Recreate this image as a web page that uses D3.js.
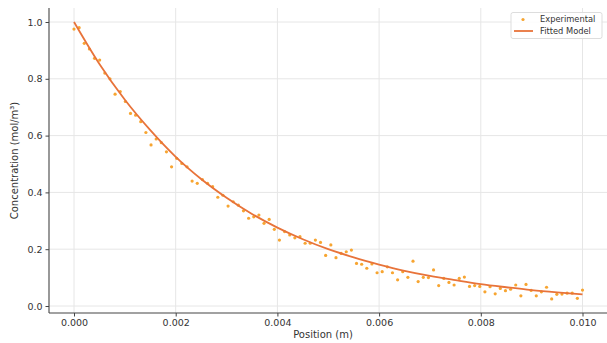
<!DOCTYPE html>
<html>
<head>
<meta charset="utf-8">
<script src="https://cdn.jsdelivr.net/npm/d3@7"></script>
<style>
  body { margin: 0; background: #fff; }
  svg { display: block; font-family: 'DejaVu Sans', sans-serif; }
</style>
</head>
<body>
<svg id="chart"></svg>
<script>
// Experimental sample positions (m)
const positions = [
  0, 0.000101, 0.000202, 0.000303, 0.000404, 0.000505, 0.000606, 0.000707, 0.000808, 0.000909,
  0.001010, 0.001111, 0.001212, 0.001313, 0.001414, 0.001515, 0.001616, 0.001717, 0.001818, 0.001919,
  0.002020, 0.002121, 0.002222, 0.002323, 0.002424, 0.002525, 0.002626, 0.002727, 0.002828, 0.002929,
  0.003030, 0.003131, 0.003232, 0.003333, 0.003434, 0.003535, 0.003636, 0.003737, 0.003838, 0.003939,
  0.004040, 0.004141, 0.004242, 0.004343, 0.004444, 0.004545, 0.004646, 0.004747, 0.004848, 0.004949,
  0.005051, 0.005152, 0.005253, 0.005354, 0.005455, 0.005556, 0.005657, 0.005758, 0.005859, 0.005960,
  0.006061, 0.006162, 0.006263, 0.006364, 0.006465, 0.006566, 0.006667, 0.006768, 0.006869, 0.006970,
  0.007071, 0.007172, 0.007273, 0.007374, 0.007475, 0.007576, 0.007677, 0.007778, 0.007879, 0.007980,
  0.008081, 0.008182, 0.008283, 0.008384, 0.008485, 0.008586, 0.008687, 0.008788, 0.008889, 0.008990,
  0.009091, 0.009192, 0.009293, 0.009394, 0.009495, 0.009596, 0.009697, 0.009798, 0.009899, 0.010000,
];

// Measured concentrations (mol/m³)
const experimental = [
  0.975, 0.980, 0.925, 0.905, 0.872, 0.866, 0.820, 0.800, 0.746, 0.755,
  0.720, 0.678, 0.672, 0.649, 0.611, 0.567, 0.588, 0.575, 0.543, 0.490,
  0.520, 0.502, 0.490, 0.440, 0.432, 0.445, 0.432, 0.420, 0.383, 0.390,
  0.352, 0.367, 0.355, 0.335, 0.309, 0.314, 0.320, 0.291, 0.305, 0.270,
  0.232, 0.262, 0.250, 0.240, 0.244, 0.221, 0.221, 0.232, 0.224, 0.178,
  0.215, 0.170, 0.185, 0.191, 0.197, 0.150, 0.147, 0.133, 0.148, 0.117,
  0.121, 0.138, 0.117, 0.092, 0.121, 0.101, 0.158, 0.086, 0.101, 0.100,
  0.127, 0.072, 0.097, 0.083, 0.074, 0.097, 0.102, 0.069, 0.072, 0.069,
  0.050, 0.068, 0.043, 0.062, 0.054, 0.059, 0.074, 0.036, 0.076, 0.055,
  0.036, 0.050, 0.066, 0.025, 0.041, 0.042, 0.045, 0.045, 0.027, 0.056,
];

// Fitted model curve, read at regular positions
const fitPositions = [
  0, 0.0005, 0.001, 0.0015, 0.002, 0.0025, 0.003, 0.0035, 0.004, 0.0045,
  0.005, 0.0055, 0.006, 0.0065, 0.007, 0.0075, 0.008, 0.0085, 0.009, 0.0095, 0.010,
];
const fitted = [
  1.000, 0.852, 0.726, 0.619, 0.525, 0.447, 0.381, 0.324, 0.276, 0.235,
  0.200, 0.171, 0.146, 0.124, 0.106, 0.091, 0.077, 0.066, 0.056, 0.048, 0.041,
];

const xTicks = [0, 0.002, 0.004, 0.006, 0.008, 0.010];
const yTicks = [0, 0.2, 0.4, 0.6, 0.8, 1.0];

const width = 607;
const height = 343;
const plot = { left: 49, right: 607, top: 8, bottom: 313 };

const pointColor = '#f7a531';
const lineColor = '#e8733a';

const svg = d3.select('#chart')
  .attr('width', width)
  .attr('height', height)
  .attr('viewBox', `0 0 ${width} ${height}`);

const xScale = d3.scaleLinear()
  .domain([0, 0.010])
  .range([74, 582.5]);

const yScale = d3.scaleLinear()
  .domain([0, 1])
  .range([306, 22]);

// Grid lines
svg.append('g')
  .selectAll('line')
  .data(xTicks)
  .join('line')
  .attr('x1', (d) => xScale(d))
  .attr('x2', (d) => xScale(d))
  .attr('y1', plot.top)
  .attr('y2', plot.bottom)
  .attr('stroke', '#e6e6e6')
  .attr('stroke-width', 1);

svg.append('g')
  .selectAll('line')
  .data(yTicks)
  .join('line')
  .attr('x1', plot.left)
  .attr('x2', plot.right)
  .attr('y1', (d) => yScale(d))
  .attr('y2', (d) => yScale(d))
  .attr('stroke', '#e6e6e6')
  .attr('stroke-width', 1);

// Axes
const xAxis = d3.axisBottom(xScale)
  .tickValues(xTicks)
  .tickFormat(d3.format('.3f'))
  .tickSize(3.5)
  .tickPadding(3);

const gx = svg.append('g')
  .attr('transform', `translate(0, ${plot.bottom})`)
  .call(xAxis);
gx.select('.domain').attr('d', `M${plot.left},0H${plot.right}`);

const yAxis = d3.axisLeft(yScale)
  .tickValues(yTicks)
  .tickFormat(d3.format('.1f'))
  .tickSize(3.5)
  .tickPadding(3);

const gy = svg.append('g')
  .attr('transform', `translate(${plot.left}, 0)`)
  .call(yAxis);
gy.select('.domain').attr('d', `M0,${plot.top}V${plot.bottom}`);

svg.selectAll('.domain').attr('stroke', '#444').attr('stroke-width', 1.1);
svg.selectAll('.tick line').attr('stroke', '#444');
svg.selectAll('.tick text')
  .attr('fill', '#333')
  .style('font-size', '9.5px')
  .style('font-family', 'DejaVu Sans, sans-serif');

// Axis labels
svg.append('text')
  .attr('x', 323)
  .attr('y', 338)
  .attr('text-anchor', 'middle')
  .attr('fill', '#333')
  .style('font-size', '10px')
  .text('Position (m)');

svg.append('text')
  .attr('transform', `translate(18, ${(plot.top + plot.bottom) / 2}) rotate(-90)`)
  .attr('text-anchor', 'middle')
  .attr('fill', '#333')
  .style('font-size', '10px')
  .text('Concentration (mol/m³)');

// Experimental points
svg.append('g')
  .selectAll('circle')
  .data(experimental)
  .join('circle')
  .attr('cx', (d, i) => xScale(positions[i]))
  .attr('cy', (d) => yScale(d))
  .attr('r', 1.6)
  .attr('fill', pointColor);

// Fitted model line
const line = d3.line()
  .x((d, i) => xScale(fitPositions[i]))
  .y((d) => yScale(d))
  .curve(d3.curveMonotoneX);

svg.append('path')
  .datum(fitted)
  .attr('d', line)
  .attr('fill', 'none')
  .attr('stroke', lineColor)
  .attr('stroke-width', 1.8);

// Legend
const legend = svg.append('g').attr('transform', 'translate(511, 12.5)');
legend.append('rect')
  .attr('width', 91)
  .attr('height', 26)
  .attr('rx', 2)
  .attr('fill', '#fff')
  .attr('fill-opacity', 0.85)
  .attr('stroke', '#ddd');
legend.append('circle')
  .attr('cx', 12)
  .attr('cy', 7)
  .attr('r', 1.6)
  .attr('fill', pointColor);
legend.append('line')
  .attr('x1', 3)
  .attr('x2', 22)
  .attr('y1', 18.5)
  .attr('y2', 18.5)
  .attr('stroke', lineColor)
  .attr('stroke-width', 1.8);
legend.append('text')
  .attr('x', 29)
  .attr('y', 9.8)
  .attr('fill', '#333')
  .style('font-size', '8.3px')
  .text('Experimental');
legend.append('text')
  .attr('x', 29)
  .attr('y', 21.5)
  .attr('fill', '#333')
  .style('font-size', '8.3px')
  .text('Fitted Model');
</script>
</body>
</html>
